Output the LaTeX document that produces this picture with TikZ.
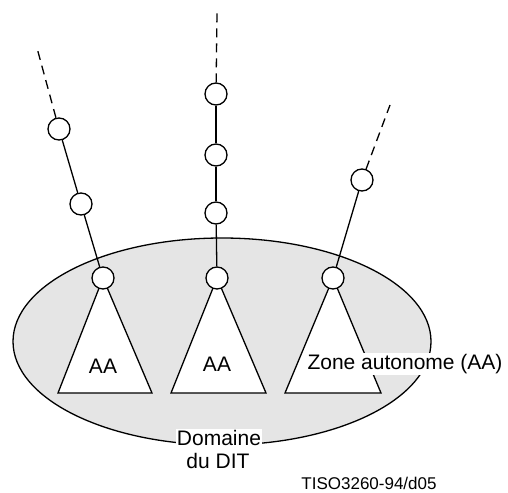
\documentclass[tikz,border=0pt]{standalone}
\usepackage{fontspec}
\setmainfont{Liberation Sans}
\begin{document}
\begin{tikzpicture}[x=1pt,y=-1pt,
  line width=1.3pt,
  dot/.style={circle,draw,fill=white,minimum size=22pt,inner sep=0pt},
  tri/.style={draw,fill=white,line join=miter},
  dashline/.style={dash pattern=on 9pt off 6pt},
  lbl/.style={font=\fontsize{21}{25}\selectfont,inner sep=1pt},
  bg/.style={fill=white}]
\useasboundingbox (0,0) rectangle (508,492);
% domain ellipse
\draw[fill=black!10] (222,341.5) ellipse [x radius=209, y radius=103.5];
% triangles
\coordinate (t1l) at (58,393); \coordinate (t1r) at (152,393);
\coordinate (t2l) at (171,393); \coordinate (t2r) at (266,393);
\coordinate (t3l) at (285,393); \coordinate (t3r) at (381,393);
\coordinate (t1a) at (103,278); \coordinate (t2a) at (217,278); \coordinate (t3a) at (333,278);
\draw[tri] (t1a) -- (t1l) -- (t1r) -- cycle;
\draw[tri] (t2a) -- (t2l) -- (t2r) -- cycle;
\draw[tri] (t3a) -- (t3l) -- (t3r) -- cycle;
% chain nodes
\node[dot] (l1) at (59,129) {};
\node[dot] (l2) at (81,204) {};
\node[dot] (l3) at (103,278) {};
\node[dot] (m1) at (216,94) {};
\node[dot] (m2) at (216,155) {};
\node[dot] (m3) at (216,213) {};
\node[dot] (m4) at (217,278) {};
\node[dot] (r1) at (362,180) {};
\node[dot] (r2) at (333,278) {};
\coordinate (le) at (37,48);
\coordinate (me) at (217,13);
\coordinate (re) at (390,105);
\draw (l1) -- (l2); \draw (l2) -- (l3);
\draw (m1) -- (m2); \draw (m2) -- (m3); \draw (m3) -- (m4);
\draw (r1) -- (r2);
\draw[dashline] (l1) -- (le);
\draw[dashline] (m1) -- (me);
\draw[dashline] (r1) -- (re);
% labels
\node[lbl] (aa1) at (103,366) {AA};
\node[lbl] (aa2) at (217,364) {AA};
\node[lbl,bg] (zone) at (405,364) {Zone autonome (AA)};
\node[lbl,bg] (dom) at (219,438) {Domaine};
\node[lbl] (dit) at (218,461) {du DIT};
\node[font=\fontsize{17}{20}\selectfont,inner sep=1pt] (ref) at (369,483) {TISO3260-94/d05};
\end{tikzpicture}
\end{document}
